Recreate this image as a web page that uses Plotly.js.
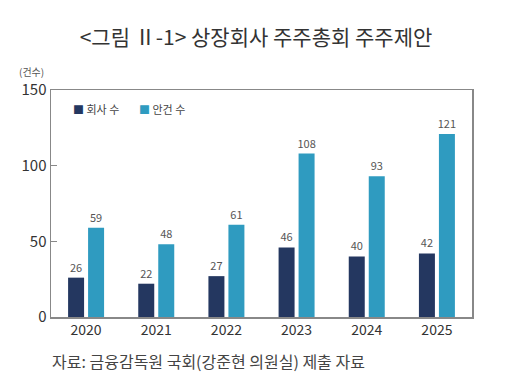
<!DOCTYPE html>
<html><head><meta charset="utf-8">
<script src="https://cdn.plot.ly/plotly-3.0.1.min.js"></script>
<style>html,body{margin:0;padding:0;background:#fff}#chart{width:512px;height:380px}</style>
</head><body><div id="chart"></div>
<script>
const years = ['2020','2021','2022','2023','2024','2025'];
const companies = [26, 22, 27, 46, 40, 42];
const proposals = [59, 48, 61, 108, 93, 121];
const seriesNames = ['회사 수', '안건 수'];
const seriesColors = ['#243760', '#2f9bc0'];
const yTicks = [0, 50, 100, 150];

const F = '"Noto Sans CJK KR", "Noto Sans", sans-serif';
const traces = [
  {type:'bar', x:years, y:companies, name:seriesNames[0], marker:{color:seriesColors[0]},
   text:companies.map(String), textposition:'outside', cliponaxis:false, constraintext:'none',
   textfont:{family:F, size:11, color:'#555'}},
  {type:'bar', x:years, y:proposals, name:seriesNames[1], marker:{color:seriesColors[1]},
   text:proposals.map(String), textposition:'outside', cliponaxis:false, constraintext:'none',
   textfont:{family:F, size:11, color:'#555'}}
];
const legendAnn = seriesNames.map((n, i) => ({
  text:'<span style="color:' + seriesColors[i] + '">■</span> ' + n,
  xref:'paper', yref:'paper', x:[0.048, 0.205][i], y:0.916, xanchor:'left', yanchor:'middle',
  showarrow:false, font:{family:F, size:11, color:'#444'}
}));
const layout = {
  width:512, height:380,
  margin:{l:51, r:40, t:90, b:63},
  paper_bgcolor:'#fff', plot_bgcolor:'#fff',
  font:{family:F, color:'#333'},
  barmode:'group', bargap:0.43, bargroupgap:0.2,
  title:{text:'<그림 Ⅱ-1> 상장회사 주주총회 주주제안', x:0.5, xanchor:'center', y:0.9, yanchor:'middle',
         font:{family:F, size:21, color:'#333'}},
  showlegend:false,
  xaxis:{type:'category', range:[-0.5,5.5], showline:true, mirror:true, linecolor:'#888', linewidth:1.5,
         ticks:'', tickfont:{family:F, size:14, color:'#333'}, showgrid:false, zeroline:false},
  yaxis:{range:[0,150], tickvals:yTicks, showline:true, mirror:true, linecolor:'#888', linewidth:1.5,
         ticks:'inside', ticklen:6, tickcolor:'#888', tickwidth:1.2,
         tickfont:{family:F, size:15, color:'#333'}, showgrid:false, zeroline:false},
  annotations:[
    {text:'(건수)', xref:'paper', yref:'paper', x:-0.081, y:1.08, xanchor:'left', yanchor:'middle',
     showarrow:false, font:{family:F, size:10, color:'#555'}},
    {text:'자료: 금융감독원 국회(강준현 의원실) 제출 자료', xref:'paper', yref:'paper', x:-0.002, y:-0.194,
     xanchor:'left', yanchor:'middle', showarrow:false, font:{family:F, size:16, color:'#444'}}
  ].concat(legendAnn)
};
Plotly.newPlot('chart', traces, layout, {staticPlot:true, displayModeBar:false});
</script></body></html>
